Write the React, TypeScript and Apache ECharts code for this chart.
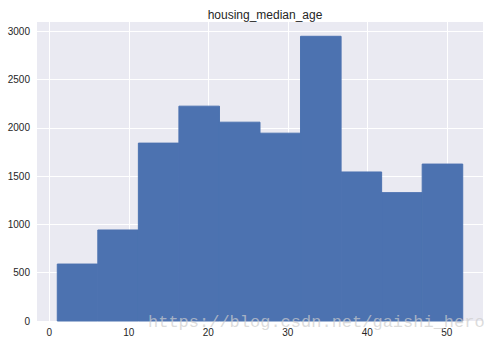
import React, { useEffect, useRef } from "react";
import * as echarts from "echarts";

const binEdges = [1, 6.1, 11.2, 16.3, 21.4, 26.5, 31.6, 36.7, 41.8, 46.9, 52];
const counts = [590, 943, 1843, 2226, 2060, 1946, 2950, 1544, 1330, 1626];
const xTicks = [0, 10, 20, 30, 40, 50];
const yTicks = [0, 500, 1000, 1500, 2000, 2500, 3000];
const title = "housing_median_age";
const watermark = "https://blog.csdn.net/gaishi_hero";

export default function App() {
  const ref = useRef<HTMLDivElement>(null);
  useEffect(() => {
    if (!ref.current) return;
    const chart = echarts.init(ref.current, null, { renderer: "svg" });
    const data = counts.map((c, i) => [binEdges[i], binEdges[i + 1], c]);
    const font = "Liberation Sans, Arial, sans-serif";
    chart.setOption({
      animation: false,
      backgroundColor: "#ffffff",
      title: {
        text: title,
        left: 260,
        textAlign: "center",
        top: 4,
        textStyle: { fontFamily: font, fontSize: 12, fontWeight: "normal", color: "#262626" },
      },
      grid: {
        left: 37,
        right: 7,
        top: 22,
        bottom: 24,
        show: true,
        backgroundColor: "#EAEAF2",
        borderWidth: 0,
      },
      xAxis: {
        type: "value",
        min: -1.55,
        max: 54.55,
        axisLine: { show: false },
        axisTick: { show: false, customValues: xTicks },
        axisLabel: {
          customValues: xTicks,
          color: "#262626",
          fontFamily: font,
          fontSize: 10,
          margin: 6,
          formatter: (v: number) => String(v),
        },
        splitLine: { show: true, lineStyle: { color: "#ffffff", width: 1 } },
      },
      yAxis: {
        type: "value",
        min: 0,
        max: 3098,
        axisLine: { show: false },
        axisTick: { show: false, customValues: yTicks },
        axisLabel: {
          customValues: yTicks,
          color: "#262626",
          fontFamily: font,
          fontSize: 10,
          margin: 7,
          formatter: (v: number) => String(v),
        },
        splitLine: { show: true, lineStyle: { color: "#ffffff", width: 1 } },
      },
      series: [
        {
          type: "custom",
          data,
          encode: { x: [0, 1], y: 2 },
          renderItem: (params: any, api: any) => {
            const p0 = api.coord([api.value(0), api.value(2)]);
            const p1 = api.coord([api.value(1), 0]);
            return {
              type: "rect",
              shape: { x: p0[0], y: p0[1], width: p1[0] - p0[0], height: p1[1] - p0[1] },
              style: { fill: "#4C72B0", stroke: "#4C72B0", lineWidth: 1 },
            };
          },
        },
      ],
      graphic: [
        {
          type: "text",
          left: 148,
          top: 314,
          style: {
            text: watermark,
            fontFamily: "Liberation Mono",
            fontSize: 17,
            fill: "rgba(205,205,205,0.7)",
          },
          z: 100,
        },
      ],
    });
    return () => chart.dispose();
  }, []);
  return (
    <div
      ref={ref}
      style={{ position: "fixed", left: 0, top: 0, width: 490, height: 345 }}
    />
  );
}
